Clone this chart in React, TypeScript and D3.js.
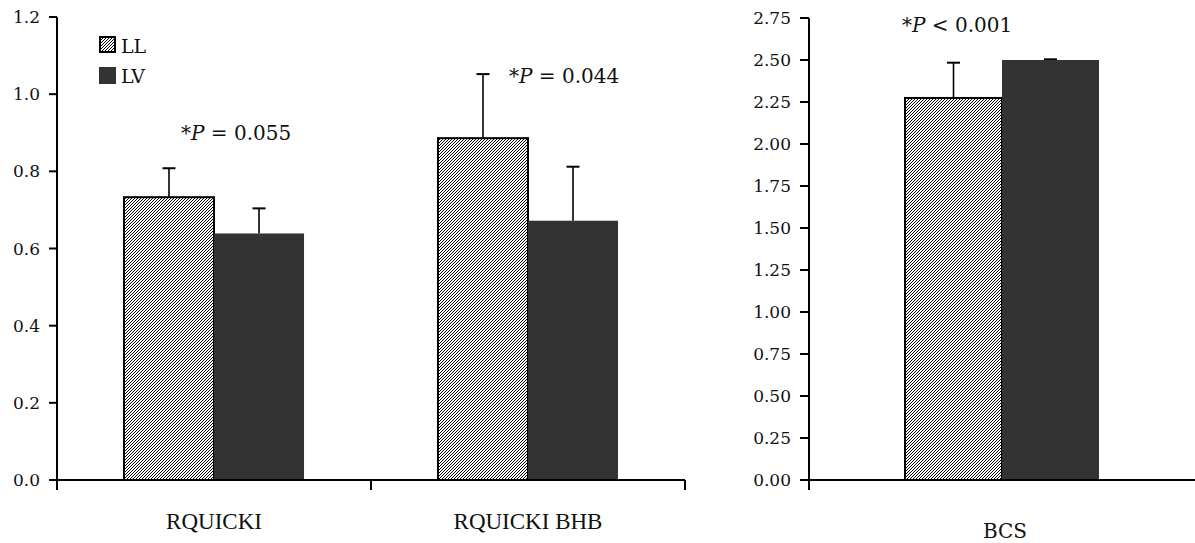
import React from 'react';
import * as d3 from 'd3';

// data
const groups = ['LL', 'LV'];
const leftCategories = ['RQUICKI', 'RQUICKI BHB'];
const leftMeans = { LL: [0.733, 0.886], LV: [0.639, 0.672] };
const leftErrors = { LL: [0.075, 0.166], LV: [0.065, 0.14] };
const leftTicks = [0, 0.2, 0.4, 0.6, 0.8, 1.0, 1.2];
const leftPValues = ['= 0.055', '= 0.044'];

const rightCategories = ['BCS'];
const rightMeans = { LL: [2.274], LV: [2.5] };
const rightErrors = { LL: [0.21], LV: [0.004] };
const rightTicks = [0, 0.25, 0.5, 0.75, 1, 1.25, 1.5, 1.75, 2, 2.25, 2.5, 2.75];
const rightPValue = '< 0.001';

const W = 1195;
const H = 543;
const LV_FILL = '#333333';
const tickFont = '"DejaVu Serif", serif';

const ErrBar = ({ x, y0, y1 }) => (
  <g stroke="#000" strokeWidth={1.6}>
    <line x1={x} x2={x} y1={y0} y2={y1} />
    <line x1={x - 6.5} x2={x + 6.5} y1={y1} y2={y1} strokeWidth={2} />
  </g>
);

const PLabel = ({ x, y, rest }) => (
  <text x={x} y={y} fontFamily={tickFont} fontSize={20} fill="#111">
    *<tspan fontStyle="italic">P</tspan> {rest}
  </text>
);

const App = () => {
  // left panel scales
  const yL = d3.scaleLinear().domain([0, 1.2]).range([480, 17]);
  const x0L = d3.scaleBand().domain(leftCategories).range([57, 685]).padding(0);
  const x1L = d3.scaleBand().domain(groups).range([0, x0L.bandwidth()]).paddingOuter(0.744).paddingInner(0);

  // right panel scales
  const yR = d3.scaleLinear().domain([0, 2.75]).range([480, 18]);
  const x0R = d3.scaleBand().domain(rightCategories).range([809, 1195]).padding(0);
  const x1R = d3.scaleBand().domain(groups).range([0, x0R.bandwidth()]).paddingOuter(0.99).paddingInner(0);

  const bars = (cats, x0, x1, y, means, errs) =>
    cats.map((c, i) => (
      <g key={c}>
        {groups.map(g => {
          const bx = x0(c) + x1(g);
          const bw = x1.bandwidth();
          const top = y(means[g][i]);
          return (
            <g key={g}>
              <ErrBar x={bx + bw / 2} y0={top} y1={y(means[g][i] + errs[g][i])} />
              {g === 'LL' ? (
                <rect x={bx} y={top} width={bw} height={y(0) - top} fill="url(#hatch)" stroke="#000" strokeWidth={2} />
              ) : (
                <rect x={bx} y={top} width={bw} height={y(0) - top} fill={LV_FILL} />
              )}
            </g>
          );
        })}
      </g>
    ));

  const yAxis = (y, ticks, xAxis, fmt, len) => (
    <g>
      <line x1={xAxis} x2={xAxis} y1={y(ticks[ticks.length - 1])} y2={y(0) + 10} stroke="#000" strokeWidth={2} />
      {ticks.map(t => (
        <g key={t}>
          <line x1={xAxis - len} x2={xAxis} y1={y(t)} y2={y(t)} stroke="#000" strokeWidth={2} />
          <text x={xAxis - len - 9} y={y(t)} dy="0.36em" textAnchor="end" fontFamily={tickFont} fontSize={17} fill="#111">
            {fmt(t)}
          </text>
        </g>
      ))}
    </g>
  );

  return (
    <div style={{ position: 'absolute', left: 0, top: 0 }}>
      <svg width={W} height={H} style={{ display: 'block', background: '#fff' }}>
        <defs>
          <pattern id="hatch" patternUnits="userSpaceOnUse" width={3} height={3}>
            <rect width={3} height={3} fill="#fff" />
            <path d="M-1,1 l2,-2 M0,3 l3,-3 M2,4 l2,-2" stroke="#000" strokeWidth={1} />
          </pattern>
        </defs>

        {/* left panel */}
        {bars(leftCategories, x0L, x1L, yL, leftMeans, leftErrors)}
        {yAxis(yL, leftTicks, 57, d3.format('.1f'), 8)}
        <line x1={57} x2={685} y1={yL(0)} y2={yL(0)} stroke="#000" strokeWidth={2} />
        {[...leftCategories.map(c => x0L(c)), 685].map((t, i) => (
          <line key={i} x1={t} x2={t} y1={yL(0)} y2={yL(0) + 10} stroke="#000" strokeWidth={2} />
        ))}
        {leftCategories.map(c => (
          <text key={c} x={x0L(c) + x0L.bandwidth() / 2} y={529} textAnchor="middle"
            fontFamily='"Liberation Serif", serif' fontSize={23} fill="#111">
            {c}
          </text>
        ))}
        <PLabel x={181} y={140} rest={leftPValues[0]} />
        <PLabel x={509} y={83} rest={leftPValues[1]} />

        {/* legend */}
        <rect x={100} y={37} width={15} height={15} fill="url(#hatch)" stroke="#000" strokeWidth={2} />
        <rect x={99} y={67} width={17} height={17} fill={LV_FILL} />
        <text x={121} y={53} fontFamily={tickFont} fontSize={19} fill="#111">LL</text>
        <text x={121} y={83} fontFamily={tickFont} fontSize={19} fill="#111">LV</text>

        {/* right panel */}
        {bars(rightCategories, x0R, x1R, yR, rightMeans, rightErrors)}
        {yAxis(yR, rightTicks, 809, d3.format('.2f'), 9)}
        <line x1={809} x2={1195} y1={yR(0)} y2={yR(0)} stroke="#000" strokeWidth={2} />
        <text x={x0R('BCS') + x0R.bandwidth() / 2 + 3} y={538} textAnchor="middle" fontFamily={tickFont} fontSize={20} fill="#111">
          BCS
        </text>
        <PLabel x={902} y={32} rest={rightPValue} />
      </svg>
    </div>
  );
};

export default App;
